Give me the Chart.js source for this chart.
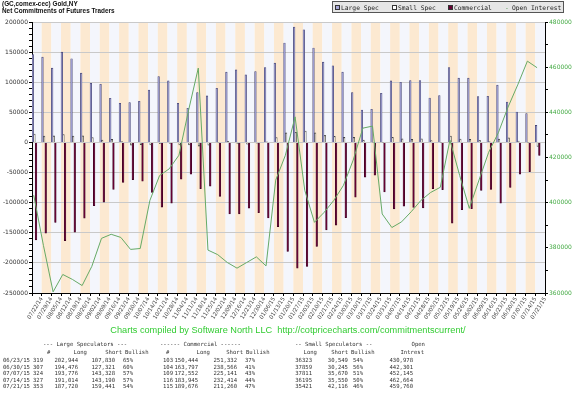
<!DOCTYPE html>
<html lang="en">
<head>
<meta charset="UTF-8">
<title>Gold COT - Net Commitments</title>
<script src="https://cdn.jsdelivr.net/npm/chart.js"></script>
<style>
    body {
        margin: 0;
        width: 576px;
        height: 397px;
        overflow: hidden;
        position: relative;
        background: #fff;
        font-family: 'DejaVu Sans', sans-serif;
    }
    #chartBox { position: absolute; left: 0; top: 0; }
    .title {
        position: absolute;
        left: 2px;
        font-family: 'Liberation Sans', Arial, sans-serif;
        font-weight: bold;
        font-size: 6.4px;
        color: #111;
        white-space: nowrap;
    }
    .legend {
        position: absolute;
        left: 332px;
        top: 1px;
        width: 232px;
        height: 12px;
        box-sizing: border-box;
        background: #e6e6e6;
        border: 1px solid #555;
        font-family: 'DejaVu Sans Mono', monospace;
        font-size: 6.3px;
        color: #222;
    }
    .legend span { position: absolute; top: 1.5px; white-space: nowrap; }
    .legend i {
        position: absolute;
        top: 3px;
        width: 3px;
        height: 3px;
        border: 1px solid #333;
    }
    .credit {
        position: absolute;
        left: 0;
        top: 325px;
        width: 576px;
        text-align: center;
        font-family: 'Liberation Sans', Arial, sans-serif;
        font-size: 9.2px;
        color: #33cc33;
        white-space: pre;
    }
    #table {
        position: absolute;
        left: 0;
        top: 0;
        width: 576px;
        height: 397px;
        font-family: 'DejaVu Sans Mono', monospace;
        font-size: 5.6px;
        color: #333;
    }
    #table span { position: absolute; white-space: pre; line-height: 6px; }
</style>
</head>
<body>
<div id="chartBox"><canvas id="cotChart" width="576" height="330"></canvas></div>

<div class="title" style="top:0px">(GC,comex-cec) Gold,NY</div>
<div class="title" style="top:7px">Net Commitments of Futures Traders</div>

<div class="legend">
    <i style="left:2px;background:#a8a8d8"></i><span style="left:8px">Large Spec</span>
    <i style="left:59px;background:#fff"></i><span style="left:65px">Small Spec</span>
    <i style="left:115px;background:#660033"></i><span style="left:121px">Commercial</span>
    <span style="left:172px;color:#559955">-</span><span style="left:179px">Open Interest</span>
</div>

<div class="credit">Charts compiled by Software North LLC  http://cotpricecharts.com/commitmentscurrent/</div>

<div id="table"></div>

<script>
// weekly report dates
const dates = ['07/22/14','07/29/14','08/05/14','08/12/14','08/19/14','08/26/14','09/02/14','09/09/14',
    '09/16/14','09/23/14','09/30/14','10/07/14','10/14/14','10/21/14','10/28/14','11/04/14','11/11/14',
    '11/18/14','11/25/14','12/02/14','12/09/14','12/16/14','12/23/14','12/30/14','01/06/15','01/13/15',
    '01/20/15','01/27/15','02/03/15','02/10/15','02/17/15','02/24/15','03/03/15','03/10/15','03/17/15',
    '03/24/15','03/31/15','04/07/15','04/14/15','04/21/15','04/28/15','05/05/15','05/12/15','05/19/15',
    '05/26/15','06/02/15','06/09/15','06/16/15','06/23/15','06/30/15','07/07/15','07/14/15','07/21/15'];

// net positions
const largeSpec = [146000,141700,123300,150000,138900,115000,98300,96700,73300,65000,66000,68300,87000,
    109400,102200,65000,56700,82700,77200,90000,116700,120500,112200,117700,124400,131700,165000,191700,
    187200,156700,133400,127200,116700,82700,53800,55000,81700,102200,100000,102700,102700,73800,78000,
    124400,106700,106700,76000,76700,95114,67155,50448,47824,28279];
const smallSpec = [13900,10500,10800,13000,10500,11000,8000,4000,5000,2000,-4500,-3500,-4000,-2000,-1500,
    -4000,-4000,-6000,-4500,-500,2000,-2000,-3000,-1000,1000,8000,16000,17000,18800,16000,11700,10000,
    8300,8300,3800,-500,500,8300,6000,5000,6000,3000,500,10500,5500,5000,3500,1500,5774,7614,2141,645,-6695];
const commercial = [-161700,-150700,-132900,-162900,-149000,-125700,-105000,-99000,-77800,-66200,-61700,
    -64500,-83000,-107400,-100700,-61000,-52700,-76700,-72700,-89500,-118700,-118500,-109200,-116700,
    -125400,-139700,-181000,-208700,-206000,-172700,-145100,-137200,-125000,-91000,-57600,-54500,-82200,
    -110500,-106000,-107700,-108700,-76800,-78300,-134000,-111700,-110000,-79500,-78000,-100888,-74769,
    -52589,-48469,-21584];
const openInterest = [403300,381100,360500,368200,366000,363300,371800,384200,386000,384600,379300,379700,
    401000,412000,415000,421000,441000,459600,379000,377000,373500,371000,373500,376000,372000,410000,
    421000,438000,405500,391300,395700,401000,407700,418800,433000,433900,395000,389000,391500,396000,
    401000,404500,406800,427700,412100,397500,410000,422300,430978,442301,452145,462664,459760];

// table below the chart
const tDates   = ['06/23/15','06/30/15','07/07/15','07/14/15','07/21/15'];
const lsTraders = [319,307,324,327,353];
const lsLong   = [202944,194476,193776,191014,187720];
const lsShort  = [107830,127321,143328,143190,159441];
const lsBull   = [65,60,57,57,54];
const cTraders = [103,104,109,116,115];
const cLong    = [150444,163797,172552,183945,189676];
const cShort   = [251332,238566,225141,232414,211260];
const cBull    = [37,41,43,44,47];
const ssLong   = [36323,37859,37811,36195,35421];
const ssShort  = [30549,30245,35670,35550,42116];
const ssBull   = [54,56,51,50,46];
const oiTable  = [430978,442301,452145,462664,459760];

// alternating column bands behind the bars
const bandPlugin = {
    id: 'bands',
    beforeDraw(chart) {
        const { ctx, chartArea, scales } = chart;
        const x = scales.x;
        const w = chartArea.width / dates.length;
        ctx.save();
        dates.forEach((d, i) => {
            const c = x.getPixelForValue(i);
            ctx.fillStyle = i % 2 ? '#fce9d1' : '#f4f6fc';
            ctx.fillRect(c - w / 2, chartArea.top, w, chartArea.height);
        });
        ctx.restore();
    }
};

const ctx = document.getElementById('cotChart').getContext('2d');
new Chart(ctx, {
    type: 'bar',
    data: {
        labels: dates,
        datasets: [
            {
                label: 'Large Spec',
                data: largeSpec,
                backgroundColor: '#9c9cd0',
                borderColor: '#3b3b6b',
                borderWidth: 0.6,
                order: 1
            },
            {
                label: 'Small Spec',
                data: smallSpec,
                backgroundColor: '#fffbe6',
                borderColor: '#444',
                borderWidth: 0.8,
                order: 1
            },
            {
                label: 'Commercial',
                data: commercial,
                backgroundColor: '#660033',
                borderColor: '#3a0020',
                borderWidth: 0.6,
                order: 1
            },
            {
                type: 'line',
                label: 'Open Interest',
                data: openInterest.map((v, i) => ({ x: i, y: v })),
                xAxisID: 'xl',
                yAxisID: 'y1',
                borderColor: '#66aa66',
                borderWidth: 1,
                pointRadius: 0,
                tension: 0,
                order: 0
            }
        ]
    },
    options: {
        responsive: false,
        animation: false,
        devicePixelRatio: 1,
        layout: { padding: { top: 22, left: 0, right: 0, bottom: 0 } },
        datasets: {
            bar: { categoryPercentage: 1, barPercentage: 1 }
        },
        plugins: {
            legend: { display: false },
            title: { display: false },
            tooltip: { enabled: false }
        },
        scales: {
            x: {
                type: 'category',
                offset: true,
                afterFit(scale) { scale.height = 37; },
                grid: {
                    offset: true,
                    drawOnChartArea: false,
                    tickLength: 3,
                    tickColor: '#000'
                },
                border: { color: '#000' },
                ticks: {
                    autoSkip: false,
                    minRotation: 58,
                    maxRotation: 58,
                    labelOffset: 5,
                    padding: 0,
                    color: '#444',
                    font: { family: 'DejaVu Sans', size: 5.5 }
                }
            },
            xl: {
                type: 'linear',
                display: false,
                offset: false,
                min: -0.18,
                max: 52.82
            },
            y: {
                position: 'left',
                min: -250000,
                max: 200000,
                afterFit(scale) { scale.width = 32; },
                grid: {
                    color: c => c.tick.value % 50000 === 0 ? '#c9c9c9' : 'rgba(0,0,0,0)',
                    tickColor: '#000',
                    tickLength: 3
                },
                border: { color: '#000' },
                ticks: {
                    stepSize: 10000,
                    autoSkip: false,
                    maxTicksLimit: 100,
                    padding: 1,
                    color: '#333',
                    font: { family: 'DejaVu Sans', size: 6 },
                    callback: v => v % 50000 === 0 ? String(v) : ''
                }
            },
            y1: {
                position: 'right',
                min: 360000,
                max: 480000,
                afterFit(scale) { scale.width = 31; },
                grid: {
                    drawOnChartArea: false,
                    tickColor: '#000',
                    tickLength: 3
                },
                border: { color: '#000' },
                ticks: {
                    stepSize: 10000,
                    autoSkip: false,
                    maxTicksLimit: 100,
                    padding: 1,
                    color: '#44aa44',
                    font: { family: 'DejaVu Sans', size: 6 },
                    callback: v => v % 20000 === 0 ? String(v) : ''
                }
            }
        }
    },
    plugins: [bandPlugin]
});

// build the summary table
const fmt = n => n.toLocaleString('en-US');
const table = document.getElementById('table');
function cell(text, x, y, right) {
    const s = document.createElement('span');
    s.textContent = text;
    s.style.top = (y - 3) + 'px';
    if (right) { s.style.right = (576 - x) + 'px'; } else { s.style.left = x + 'px'; }
    table.appendChild(s);
}
cell('--- Large Speculators ---', 43, 344);
cell('------ Commercial ------', 160, 344);
cell('-- Small Speculators --', 295, 344);
cell('Open', 425, 344, true);
cell('#', 47, 352);
cell('Long', 87, 352, true);
cell('Short', 122, 352, true);
cell('Bullish', 125, 352);
cell('#', 166, 352);
cell('Long', 210, 352, true);
cell('Short', 243, 352, true);
cell('Bullish', 246, 352);
cell('Long', 317, 352, true);
cell('Short', 348, 352, true);
cell('Bullish', 351, 352);
cell('Intrest', 424, 352, true);
tDates.forEach((d, i) => {
    const y = 360 + i * 6.5;
    cell(d, 3, y);
    cell(String(lsTraders[i]), 33, y);
    cell(fmt(lsLong[i]), 78, y, true);
    cell(fmt(lsShort[i]), 115, y, true);
    cell(lsBull[i] + '%', 123, y);
    cell(String(cTraders[i]), 163, y);
    cell(fmt(cLong[i]), 198, y, true);
    cell(fmt(cShort[i]), 237, y, true);
    cell(cBull[i] + '%', 245, y);
    cell(String(ssLong[i]), 312, y, true);
    cell(fmt(ssShort[i]), 348, y, true);
    cell(ssBull[i] + '%', 353, y);
    cell(fmt(oiTable[i]), 413, y, true);
});
</script>
</body>
</html>
